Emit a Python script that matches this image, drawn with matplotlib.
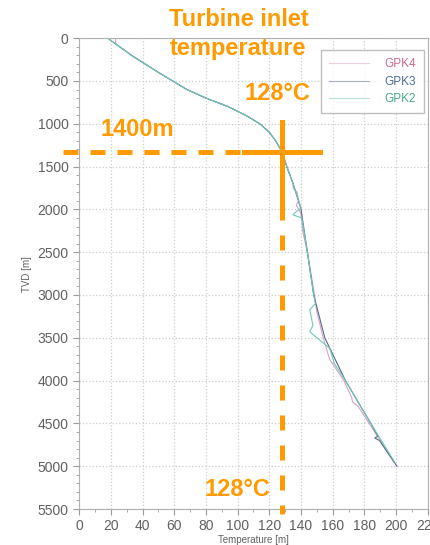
import numpy as np
import matplotlib.pyplot as plt

plt.rcParams['font.family'] = ['Liberation Sans', 'DejaVu Sans']

# Profils de température (profondeur TVD en m, température en °C)
gpk4_depth = [0, 60, 80, 200, 400, 500, 600, 700, 800, 900, 1000, 1100, 1200, 1330,
              1500, 1650, 1700, 1750, 1800, 1900, 1950, 2050, 2150, 2250, 2500,
              3000, 3200, 3500, 3750, 4000, 4200, 4250, 4300, 4500, 4700, 4950]
gpk4_temp = [23, 23, 24, 33, 50, 59, 68, 80, 94, 105, 114, 120, 124, 128,
             131, 134, 135, 135, 137.5, 138.5, 137, 140, 140.5, 141, 144,
             148.5, 150, 154, 158, 167, 172, 172.5, 176, 183, 190, 198.5]

gpk3_depth = [0, 200, 400, 500, 600, 700, 800, 900, 1000, 1100, 1200, 1330,
              1500, 1700, 2000, 2500, 3000, 3500, 4000, 4500, 4650, 4670, 4700, 5000]
gpk3_temp = [18, 33, 50, 59, 68, 80, 94, 105, 114, 120, 124, 128,
             131, 135, 140, 144, 148, 155, 168, 184, 188.5, 186.5, 189.5, 200.5]

gpk2_depth = [0, 200, 400, 500, 600, 700, 800, 900, 1000, 1100, 1200, 1330,
              1500, 1700, 1985, 2040, 2065, 2100, 2500, 3000, 3100, 3175,
              3355, 3430, 3500, 3620, 3800, 4000, 4500, 4950]
gpk2_temp = [18, 33, 50, 59, 68, 80, 94, 105, 114, 120, 124, 128,
             131, 135, 140, 136, 135, 140.5, 144, 148, 149, 145.5,
             147.5, 145.5, 150, 158, 161, 168, 184, 199]

# Point de fonctionnement de la turbine
t_inlet = 128
z_inlet = 1330

orange = '#ff9a00'
grey = '#606060'

fig = plt.figure(figsize=(4.3, 5.45), dpi=100)
ax = fig.add_axes([0.184, 0.066, 0.811, 0.864])

ax.plot(gpk4_temp, gpk4_depth, color='#d9a3c4', lw=0.8, label='GPK4')
ax.plot(gpk3_temp, gpk3_depth, color='#56688a', lw=0.8, label='GPK3')
ax.plot(gpk2_temp, gpk2_depth, color='#6cc9b8', lw=0.8, label='GPK2')

ax.set_xlim(0, 220)
ax.set_ylim(5500, 0)
ax.set_xticks(np.arange(0, 221, 20))
ax.set_yticks(np.arange(0, 5501, 500))
ax.set_xticks(np.arange(0, 221, 10), minor=True)
ax.set_yticks(np.arange(0, 5501, 100), minor=True)
ax.grid(True, which='major', color='#cccccc', ls=':', lw=0.9)
ax.tick_params(which='both', colors='#9a9a9a', labelcolor=grey, labelsize=10)
ax.tick_params(which='major', length=4)
ax.tick_params(which='minor', length=2)
for s in ax.spines.values():
    s.set_color('#b0b0b0')

ax.set_xlabel('Temperature [m]', fontsize=7, color=grey, labelpad=1)
ax.set_ylabel('TVD [m]', fontsize=7, color=grey, labelpad=4)

leg = ax.legend(loc='upper right', bbox_to_anchor=(1.0, 0.982), fontsize=8.5,
                fancybox=False, edgecolor='#b0b0b0', handlelength=3.4,
                labelcolor=['#d0688e', '#4a6e96', '#4aa88e'], borderpad=0.7,
                labelspacing=0.45, handletextpad=1.3, borderaxespad=0.3)
for line in leg.get_lines():
    line.set_alpha(0.5)

# Lignes de repère oranges
ax.plot([-10, 104], [z_inlet, z_inlet], color=orange, lw=3.6, dashes=(3, 2.4),
        clip_on=False, zorder=5)
ax.plot([104, 152], [z_inlet, z_inlet], color=orange, lw=3.6, clip_on=False, zorder=5)
ax.plot([t_inlet, t_inlet], [980, 1950], color=orange, lw=3.6, clip_on=False, zorder=5)
ax.plot([t_inlet, t_inlet], [1950, 5560], color=orange, lw=3.6, dashes=(3, 3),
        clip_on=False, zorder=5)

txt = dict(color=orange, fontsize=17, fontweight='bold', ha='center', va='center')
fig.text(238.5 / 430, 1 - 34 / 545, 'Turbine inlet\ntemperature', linespacing=1.3, **txt)
fig.text(277 / 430, 1 - 93 / 545, '128°C', **txt)
fig.text(137 / 430, 1 - 130 / 545, '1400m', **txt)
fig.text(237 / 430, 1 - 490 / 545, '128°C', **txt)

fig.savefig('out.png', dpi=100)
